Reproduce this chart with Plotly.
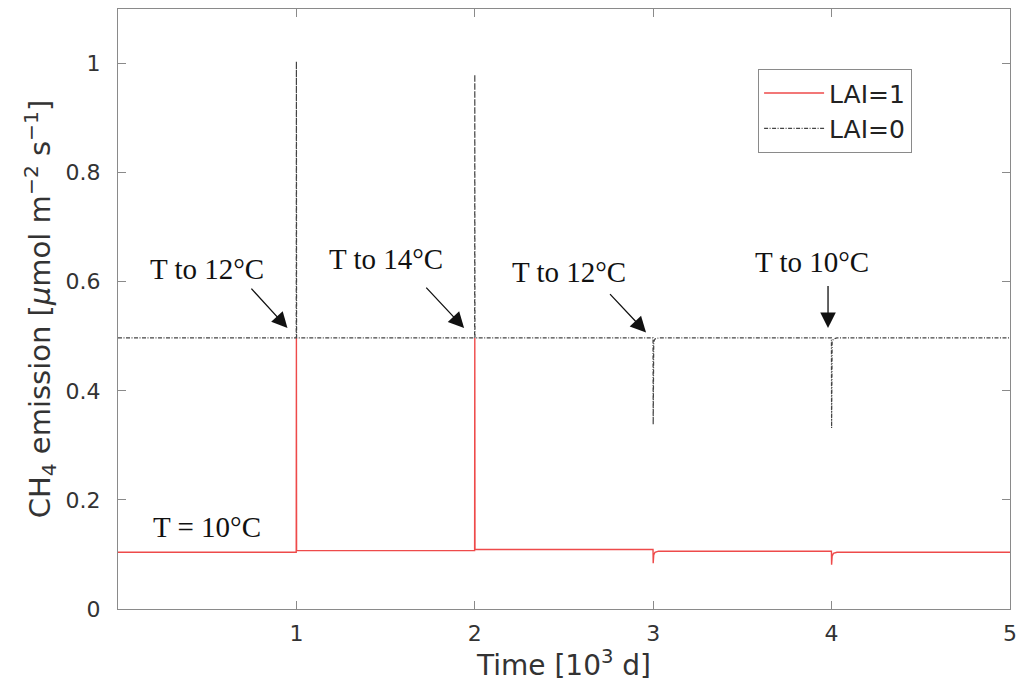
import plotly.graph_objects as go

# ---- data (time in 10^3 d, emission in µmol m-2 s-1) ----
t_lai1 = [0.0, 0.999, 1.0, 1.001, 1.999, 2.0, 2.001, 2.999, 3.0, 3.003, 3.01, 3.03, 3.999, 4.0, 4.003, 4.01, 4.03, 5.0]
e_lai1 = [0.104, 0.104, 0.497, 0.107, 0.107, 0.497, 0.109, 0.109, 0.084, 0.099, 0.104, 0.106, 0.106, 0.081, 0.097, 0.102, 0.104, 0.104]

t_lai0 = [0.0, 0.999, 1.0, 1.001, 1.999, 2.0, 2.001, 2.999, 3.0, 3.003, 3.01, 3.03, 3.999, 4.0, 4.003, 4.01, 4.03, 5.0]
e_lai0 = [0.497, 0.497, 1.004, 0.497, 0.497, 0.980, 0.497, 0.497, 0.338, 0.490, 0.495, 0.497, 0.497, 0.332, 0.490, 0.495, 0.497, 0.497]

series_names = ["LAI=1", "LAI=0"]

x_ticks = [1, 2, 3, 4, 5]
y_ticks = [0, 0.2, 0.4, 0.6, 0.8, 1]
y_ticktext = ["0", "0.2", "0.4", "0.6", "0.8", "1"]

# annotation labels: (text, text_x, text_y, head_x, head_y, tail_x, tail_y)
notes = [
    ("T to 12°C", 0.50, 0.623, 0.95, 0.515, 0.74, 0.590),
    ("T to 14°C", 1.50, 0.642, 1.94, 0.515, 1.72, 0.592),
    ("T to 12°C", 2.53, 0.617, 2.96, 0.507, 2.75, 0.580),
    ("T to 10°C", 3.89, 0.637, 3.98, 0.515, 3.98, 0.595),
]
base_note = ("T = 10°C", 0.50, 0.150)

fig = go.Figure()
fig.add_trace(go.Scatter(x=t_lai1, y=e_lai1, mode="lines", name=series_names[0],
                         line=dict(color="#ee4a4a", width=1.4)))
fig.add_trace(go.Scatter(x=t_lai0, y=e_lai0, mode="lines", name=series_names[1],
                         line=dict(color="#444444", width=1.2, dash="4px,1.5px,1px,1.5px")))

serif = "Liberation Serif"
for txt, tx, ty, hx, hy, ax, ay in notes:
    fig.add_annotation(x=tx, y=ty, xref="x", yref="y", text=txt, showarrow=False,
                       font=dict(family=serif, size=29, color="#111"))
    fig.add_annotation(x=hx, y=hy, xref="x", yref="y", ax=ax, ay=ay, axref="x", ayref="y",
                       text="", showarrow=True, arrowhead=2, arrowsize=2.4, arrowwidth=1.3,
                       arrowcolor="#111")
fig.add_annotation(x=base_note[1], y=base_note[2], xref="x", yref="y", text=base_note[0],
                   showarrow=False, font=dict(family=serif, size=29, color="#111"))

axis_common = dict(showline=True, linecolor="#8a8a8a", linewidth=1.2, mirror="allticks",
                   ticks="inside", ticklen=8, tickcolor="#8a8a8a", showgrid=False, zeroline=False,
                   tickfont=dict(family="DejaVu Sans", size=22, color="#333"))

fig.update_xaxes(range=[0, 5], tickvals=x_ticks, ticktext=[str(v) for v in x_ticks],
                 ticklabelstandoff=4,
                 title=dict(text="Time [10<sup>3</sup> d]", font=dict(family="DejaVu Sans", size=28, color="#333"),
                            standoff=2),
                 **axis_common)
fig.update_yaxes(range=[0, 1.1], tickvals=y_ticks, ticktext=y_ticktext,
                 ticklabelstandoff=12,
                 title=dict(text="CH<sub>4</sub> emission [<i>μ</i>mol m<sup>−2</sup> s<sup>−1</sup>]",
                            font=dict(family="DejaVu Sans", size=29, color="#333"), standoff=6),
                 **axis_common)

fig.update_layout(
    width=1021, height=691,
    margin=dict(l=118, r=11, t=9, b=82, autoexpand=False),
    plot_bgcolor="white", paper_bgcolor="white",
    showlegend=True,
    legend=dict(x=0.89, y=0.9, xanchor="right", yanchor="top",
                bordercolor="#8a8a8a", borderwidth=1.2, bgcolor="white",
                font=dict(family="DejaVu Sans", size=25, color="#222"),
                tracegroupgap=0, itemwidth=60),
)

fig.write_html("out.html", config={"displayModeBar": False},
               post_script="document.body.style.margin='0';document.body.style.overflow='hidden';")
